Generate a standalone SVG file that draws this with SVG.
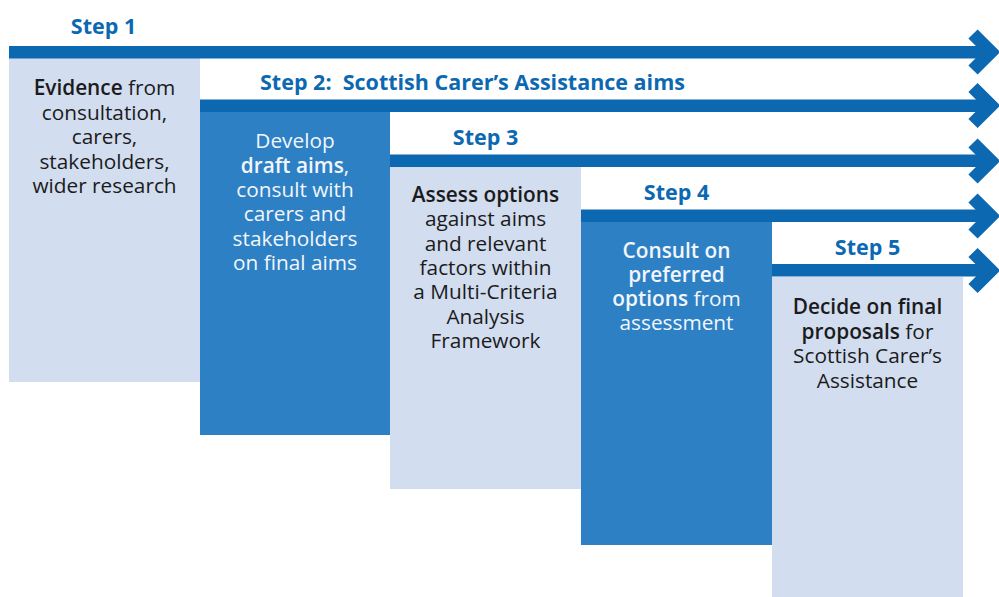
<svg xmlns="http://www.w3.org/2000/svg" width="999" height="597" viewBox="0 0 999 597">
<style>
.light{fill:#d2ddf0}
.dark{fill:#2d80c4}
.bar{fill:#0c68b1}
.chev{fill:none;stroke:#0c68b1;stroke-width:13;stroke-linejoin:miter;stroke-miterlimit:10;stroke-linecap:butt}
.step{font-family:"Open Sans","Liberation Sans",sans-serif;font-weight:bold;font-size:21.5px;fill:#0c68b1;text-anchor:middle}
.body{font-family:"Open Sans","Liberation Sans",sans-serif;font-size:20.8px;text-anchor:middle}
.dk{fill:#1b1b1b}
.wt{fill:#f2f6fb}
.b{font-weight:600}
</style>
<rect width="999" height="597" fill="#ffffff"/>
<g id="step1">
<rect class="light" x="9" y="58" width="191" height="324"/>
<text class="step" x="103.5" y="34">Step 1</text>
<text class="body dk"><tspan x="104.5" y="95"><tspan class="b">Evidence</tspan> from</tspan><tspan x="104.5" y="119.5">consultation,</tspan><tspan x="104.5" y="144">carers,</tspan><tspan x="104.5" y="168.5">stakeholders,</tspan><tspan x="104.5" y="193">wider research</tspan></text>
</g>
<g id="step2">
<rect class="dark" x="200" y="112" width="190" height="323"/>
<text class="step" x="472.5" y="90" xml:space="preserve">Step 2:  Scottish Carer’s Assistance aims</text>
<text class="body wt"><tspan x="295" y="148">Develop</tspan><tspan x="295" y="172.5"><tspan class="b">draft aims</tspan>,</tspan><tspan x="295" y="197">consult with</tspan><tspan x="295" y="221">carers and</tspan><tspan x="295" y="245.5">stakeholders</tspan><tspan x="295" y="270">on final aims</tspan></text>
</g>
<g id="step3">
<rect class="light" x="390" y="167" width="191" height="322"/>
<text class="step" x="485.5" y="145">Step 3</text>
<text class="body dk"><tspan x="485.5" y="202" class="b">Assess options</tspan><tspan x="485.5" y="226">against aims</tspan><tspan x="485.5" y="250.5">and relevant</tspan><tspan x="485.5" y="275">factors within</tspan><tspan x="485.5" y="299">a Multi-Criteria</tspan><tspan x="485.5" y="323.5">Analysis</tspan><tspan x="485.5" y="348">Framework</tspan></text>
</g>
<g id="step4">
<rect class="dark" x="581" y="222" width="191" height="323"/>
<text class="step" x="676.5" y="200">Step 4</text>
<text class="body wt"><tspan x="676.5" y="257.5" class="b">Consult on</tspan><tspan x="676.5" y="282" class="b">preferred</tspan><tspan x="676.5" y="306"><tspan class="b">options</tspan> from</tspan><tspan x="676.5" y="330">assessment</tspan></text>
</g>
<g id="step5">
<rect class="light" x="772" y="277" width="191" height="320"/>
<text class="step" x="867.5" y="255">Step 5</text>
<text class="body dk"><tspan x="867.5" y="314" class="b">Decide on final</tspan><tspan x="867.5" y="338.5"><tspan class="b">proposals</tspan> for</tspan><tspan x="867.5" y="363">Scottish Carer’s</tspan><tspan x="867.5" y="387.5">Assistance</tspan></text>
</g>
<g id="connectors">
<rect class="bar" x="9" y="46" width="978" height="12.5"/>
<polyline class="chev" points="973,34 991,52 973,70"/>
<rect class="bar" x="200" y="99.5" width="787" height="12.5"/>
<polyline class="chev" points="973,87.5 991,105.5 973,123.5"/>
<rect class="bar" x="390" y="154.5" width="597" height="12.5"/>
<polyline class="chev" points="973,143 991,161 973,179"/>
<rect class="bar" x="581" y="209.5" width="406" height="12.5"/>
<polyline class="chev" points="973,198 991,216 973,234"/>
<rect class="bar" x="772" y="264" width="215" height="12.5"/>
<polyline class="chev" points="973,252.5 991,270.5 973,288.5"/>
</g>
</svg>
